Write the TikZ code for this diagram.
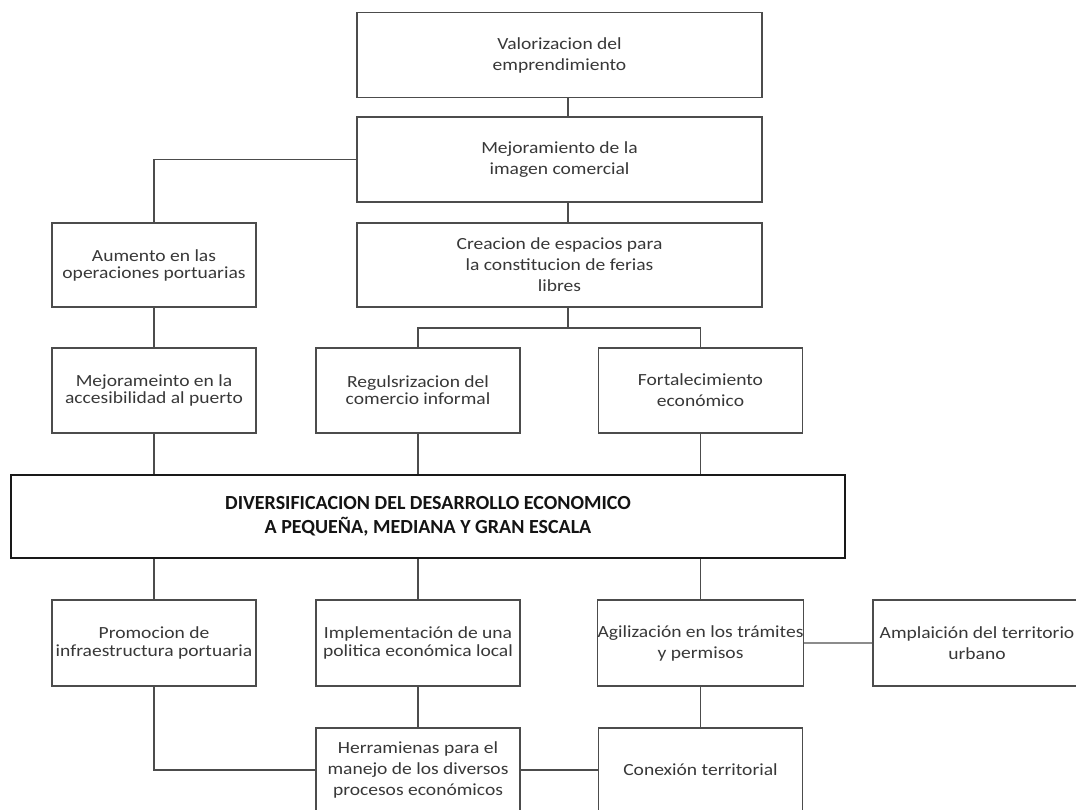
\documentclass[tikz,border=0pt]{standalone}
\usepackage{fontspec}
\setmainfont{Carlito}[FakeStretch=1.15]
\newfontfamily\bigfont{Carlito}
\begin{document}
\begin{tikzpicture}[x=1pt,y=-1pt,
  box/.style={draw=black!70,line width=1.3pt,fill=white,minimum width=204pt,minimum height=85pt,align=center,inner sep=0pt,text=black!78,font=\fontsize{17}{21}\selectfont},
  tight/.style={font=\fontsize{17}{17}\selectfont},
  mid/.style={font=\fontsize{17}{18.5}\selectfont},
  wide/.style={box,minimum width=405pt},
  mainbox/.style={draw=black!90,line width=2.6pt,fill=white,minimum width=834pt,minimum height=83pt,align=center,inner sep=0pt,text=black!92,font=\bigfont\bfseries\fontsize{20}{23.5}\selectfont},
  link/.style={draw=black!70,line width=1.3pt},
  glink/.style={draw=black!45,line width=1.6pt}]
\useasboundingbox (0,0) rectangle (1076,809);
\fill[white] (0,0) rectangle (1076,809);
\clip (0,0) rectangle (1076,809);
% nodes
\node[wide] (b1) at (559.5,55) {Valorizacion del\\emprendimiento};
\node[wide] (b2) at (559.5,159.5) {Mejoramiento de la\\imagen comercial};
\node[box,tight,minimum height=84pt] (b3) at (154,265) {Aumento en las\\operaciones portuarias};
\node[wide,minimum height=84pt] (b4) at (559.5,265) {Creacion de espacios para\\la constitucion de ferias\\libres};
\node[box,tight] (b5) at (154,390.5) {Mejorameinto en la\\accesibilidad al puerto};
\node[box,tight] (b6) at (418,390.5) {Regulsrizacion del\\comercio informal};
\node[box] (b7) at (700.5,390.5) {Fortalecimiento\\económico};
\node[mainbox] (big) at (428,516.5) {DIVERSIFICACION DEL DESARROLLO ECONOMICO\\A PEQUEÑA, MEDIANA Y GRAN ESCALA};
\node[box,mid,minimum height=86pt] (b9) at (154,643) {Promocion de\\infraestructura portuaria};
\node[box,mid,minimum height=86pt] (b10) at (418,643) {Implementación de una\\politica económica local};
\node[box,minimum height=86pt,minimum width=208pt] (b12) at (977,643) {Amplaición del territorio\\urbano};
\node[box,minimum height=84pt] (b13) at (418,770) {Herramienas para el\\manejo de los diversos\\procesos económicos};
\node[box,minimum height=84pt] (b14) at (700.5,770) {Conexión territorial};
\node[box,minimum height=86pt] (b11) at (700.5,643) {Agilización en los trámites\\y permisos};
\coordinate (c1) at (568,0);
\coordinate (j1) at (568,328);
% connectors
\draw[glink] (b11.east) -- (b12.west);
\draw[link] (b1.south -| c1) -- (b2.north -| c1);
\draw[link] (b2.west) -| (b3.north);
\draw[link] (b2.south -| c1) -- (b4.north -| c1);
\draw[link] (b4.south -| c1) -- (j1);
\draw[link] (b6.north) |- (j1) -| (b7.north);
\draw[link] (b3.south) -- (b5.north);
\draw[link] (b5.south) -- (big.north -| b5.south);
\draw[link] (b6.south) -- (big.north -| b6.south);
\draw[link] (b7.south) -- (big.north -| b7.south);
\draw[link] (big.south -| b9.north) -- (b9.north);
\draw[link] (big.south -| b10.north) -- (b10.north);
\draw[link] (big.south -| b11.north) -- (b11.north);
\draw[link] (b9.south) |- (b13.west);
\draw[link] (b10.south) -- (b13.north);
\draw[link] (b11.south) -- (b14.north);
\draw[link] (b13.east) -- (b14.west);
\end{tikzpicture}
\end{document}
